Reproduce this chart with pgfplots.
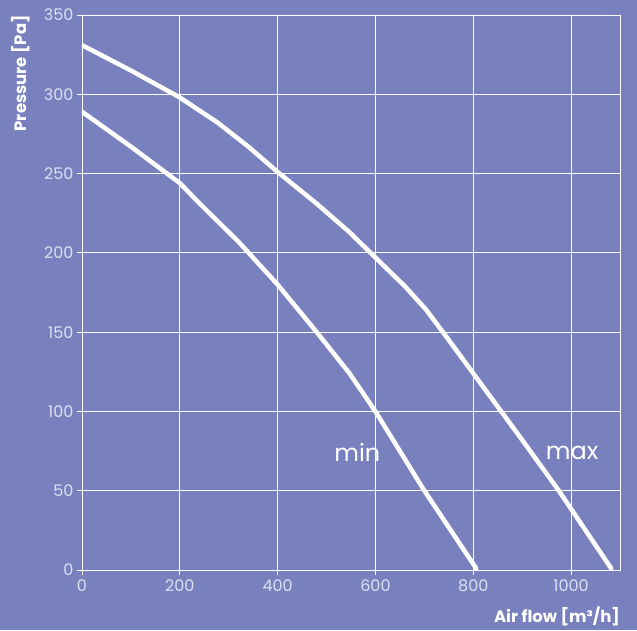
\documentclass[border=0pt]{standalone}
\usepackage{pgfplots}
\pgfplotsset{compat=1.18}
\usepackage{fontspec}
\setmainfont{Poppins}
\definecolor{bg}{HTML}{7881BD}
\definecolor{ticklab}{HTML}{DDE0F2}
\begin{document}
\begin{tikzpicture}
\fill[bg] (-82pt,-60pt) rectangle (555pt,570pt);
\begin{axis}[
  scale only axis, width=538pt, height=555pt,
  xmin=0, xmax=1100, ymin=0, ymax=350,
  xtick={0,200,...,1000}, ytick={0,50,...,350},
  grid=major, major grid style={white, line width=0.9pt},
  axis line style={white, line width=0.9pt},
  tick pos=left, tick align=outside, major tick length=5pt,
  tick style={white, line width=0.9pt},
  /pgf/number format/assume math mode=true,
  /pgf/number format/1000 sep={},
  tick label style={font=\fontsize{16}{18}\selectfont, text=ticklab},
  xticklabel style={yshift=-1pt},
  ylabel={\bfseries Pressure [Pa]},
  ylabel style={font=\fontsize{16.5}{18}\selectfont, text=white, at={(axis description cs:0,1)}, anchor=south east, yshift=52pt, inner sep=0pt},
  xlabel={\bfseries Air flow [m³/h]},
  xlabel style={font=\fontsize{16.5}{18}\selectfont, text=white, at={(axis description cs:1,0)}, anchor=north east, yshift=-37pt, inner sep=0pt},
]
\addplot[white, line width=4.5pt, line cap=round, line join=round] coordinates {
 (0,331) (100,315) (200,298) (278,282) (340,267) (400,251) (480,231) (547,213) (600,197) (660,179) (704,164) (750,145) (800,124) (900,82) (975,50) (1082,1)
};
\addplot[white, line width=4.5pt, line cap=round, line join=round] coordinates {
 (0,289) (100,267) (200,244) (241,231) (320,207) (400,180) (480,150) (547,124) (600,100) (650,75) (700,50) (806,1)
};
\node[text=white, font=\fontsize{24}{26}\selectfont] at (axis cs:563,74) {min};
\node[text=white, font=\fontsize{24}{26}\selectfont] at (axis cs:1002,74) {max};
\end{axis}
\end{tikzpicture}
\end{document}
